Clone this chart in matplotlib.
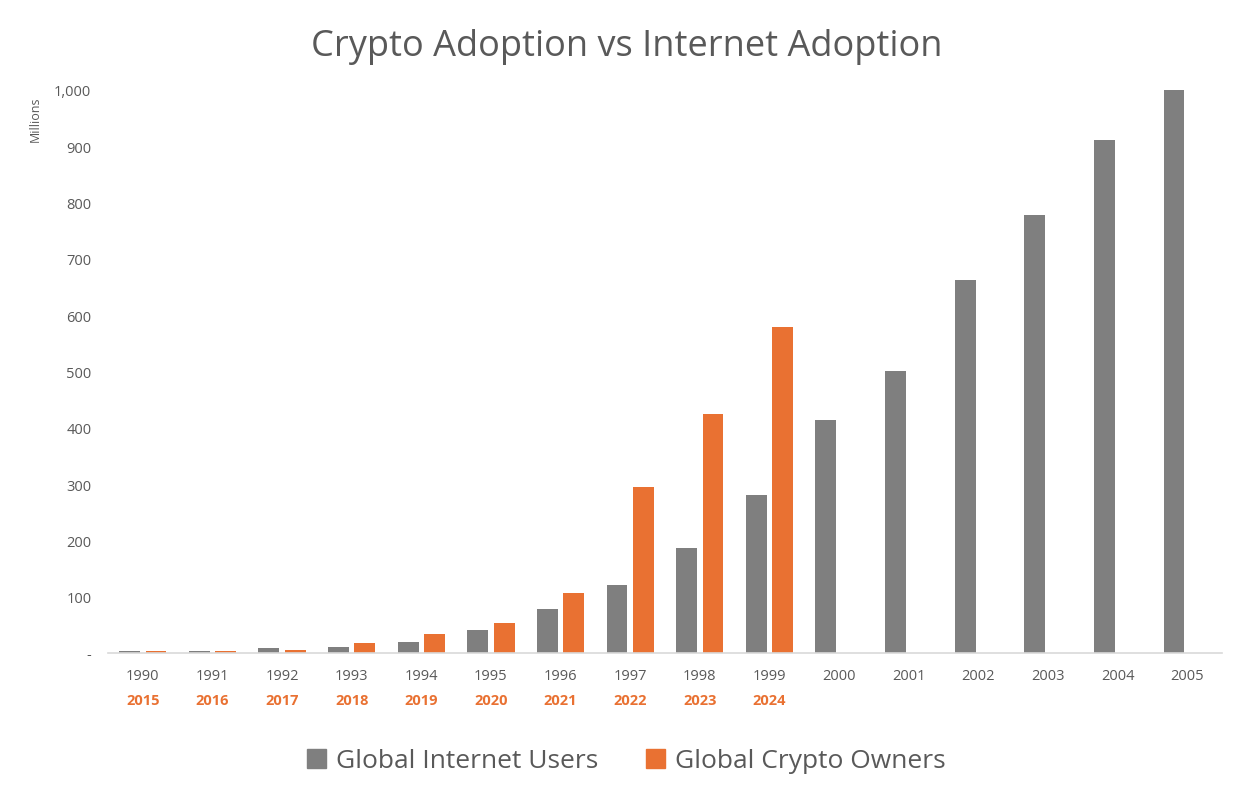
"""
Crypto adoption vs internet adoption bar chart
"""
import matplotlib.pyplot as plt
import matplotlib.transforms as mtransforms
from matplotlib.patches import Patch
import numpy as np

plt.rcParams.update({
    'font.family': ['Open Sans', 'DejaVu Sans'],
    'axes.spines.top': False,
    'axes.spines.right': False,
})

# Data (millions)
internet_years = ['1990', '1991', '1992', '1993', '1994', '1995', '1996', '1997',
                  '1998', '1999', '2000', '2001', '2002', '2003', '2004', '2005']
crypto_years = ['2015', '2016', '2017', '2018', '2019', '2020', '2021', '2022',
                '2023', '2024']
internet_users = [3, 4, 9, 10, 20, 40, 78, 121, 187, 280, 413, 501, 663, 778, 911, 1000]
crypto_owners = [3, 3, 5, 18, 34, 54, 107, 295, 425, 579]

GRAY = '#7f7f7f'
ORANGE = '#e97132'
TEXT = '#595959'

fig = plt.figure(figsize=(12.53, 8.03), dpi=100)
ax = fig.add_axes([108 / 1253, 149 / 803, 1114 / 1253, 563 / 803])

x = np.arange(len(internet_years))
xc = np.arange(len(crypto_years))
width = 0.30
offset = 0.19

ax.bar(x - offset, internet_users, width, color=GRAY, label='Global Internet Users')
ax.bar(xc + offset, crypto_owners, width, color=ORANGE, label='Global Crypto Owners')

ax.set_xlim(-0.5, len(internet_years) - 0.5)
ax.set_ylim(0, 1000)
ax.set_yticks(np.arange(0, 1001, 100))
ax.set_yticklabels(['-'] + [f'{v:,}' for v in range(100, 1001, 100)])
ax.set_xticks(x)
ax.set_xticklabels(internet_years)
ax.tick_params(length=0, colors=TEXT, labelsize=10.5)
ax.tick_params(axis='x', pad=11)
ax.tick_params(axis='y', pad=12)

ax.spines['left'].set_visible(False)
ax.spines['bottom'].set_color('#d9d9d9')
ax.spines['bottom'].set_linewidth(1.2)

# Crypto years under the internet years
trans = mtransforms.blended_transform_factory(ax.transData, ax.transAxes)
for xi, yr in zip(xc, crypto_years):
    ax.text(xi, -0.083, yr, transform=trans, ha='center', va='center',
            color=ORANGE, fontsize=10.5, fontweight='bold')

fig.text(35 / 1253, 1 - 119 / 803, 'Millions', rotation=90, ha='center', va='center',
         color=TEXT, fontsize=9)

fig.suptitle('Crypto Adoption vs Internet Adoption', y=1 - 47 / 803, va='center',
             color=TEXT, fontsize=26)

handles = [Patch(color=GRAY), Patch(color=ORANGE)]
fig.legend(handles, ['Global Internet Users', 'Global Crypto Owners'],
           loc='center', bbox_to_anchor=(0.5, 1 - 762 / 803), ncol=2, frameon=False,
           fontsize=19, labelcolor=TEXT, handlelength=0.7, handleheight=0.7,
           handletextpad=0.4, columnspacing=1.8)

fig.savefig('out.png', dpi=100, facecolor='white')
